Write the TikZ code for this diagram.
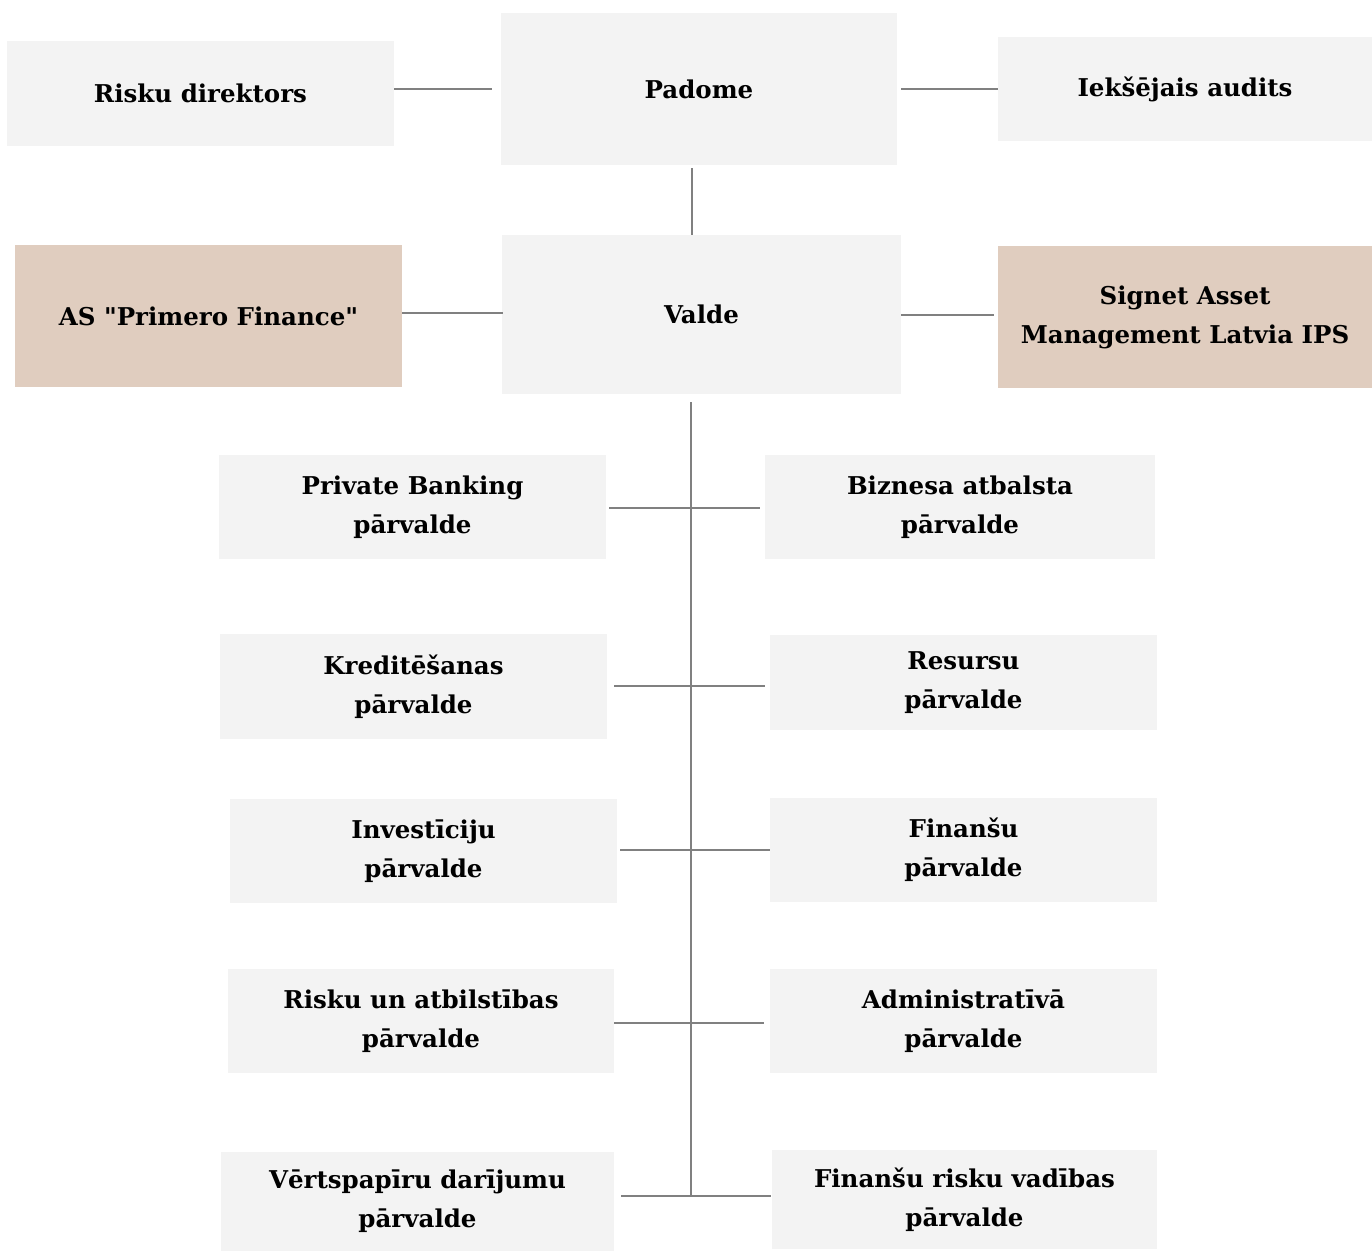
\documentclass[tikz,border=0pt]{standalone}
\usepackage{fontspec}
\setmainfont{DejaVu Serif}
\usetikzlibrary{positioning}

\definecolor{boxgray}{HTML}{F3F3F3}
\definecolor{boxtan}{HTML}{E0CDBF}
\definecolor{linegray}{HTML}{808080}

\tikzset{
  unit/.style={fill=boxgray, draw=none, font=\bfseries\fontsize{24.5}{39}\selectfont,
    align=center, inner sep=0pt, minimum width=387pt, minimum height=104pt},
  subunit/.style={unit, fill=boxtan, minimum height=142pt},
  link/.style={draw=linegray, line width=2pt}
}

\begin{document}
\begin{tikzpicture}[x=1pt, y=-1pt]
\useasboundingbox (0,0) rectangle (1372,1251);
% Top: supervisory level
\node [unit, minimum width=396pt, minimum height=152pt] (padome) at (699,89) {Padome};
\node [unit, minimum height=105pt] (risks) at (200.5,93.5) {Risku direktors};
\node [unit, minimum width=374pt] (audit) at (1185,89) {Iekšējais audits};
% Management board and subsidiaries
\node [unit, minimum width=399pt, minimum height=159pt] (valde) at (701.5,314.5) {Valde};
\node [subunit] (primero) at (208.5,316) {AS \textquotedbl Primero Finance\textquotedbl};
\node [subunit, minimum width=374pt] (signet) at (1185,317) {Signet Asset\\Management Latvia IPS};
% Departments, left column
\node [unit] (privbank) at (412.5,507) {Private Banking\\pārvalde};
\node [unit, minimum height=105pt] (kredit) at (413.5,686.5) {Kreditēšanas\\pārvalde};
\node [unit] (invest) at (423.5,851) {Investīciju\\pārvalde};
\node [unit, minimum width=386pt] (riskcomp) at (421,1021) {Risku un atbilstības\\pārvalde};
\node [unit, minimum width=393pt, minimum height=99pt] (securities) at (417.5,1201.5) {Vērtspapīru darījumu\\pārvalde};
% Departments, right column
\node [unit, minimum width=390pt] (bizsup) at (960,507) {Biznesa atbalsta\\pārvalde};
\node [unit, minimum height=95pt] (resources) at (963.5,682.5) {Resursu\\pārvalde};
\node [unit] (finance) at (963.5,850) {Finanšu\\pārvalde};
\node [unit] (admin) at (963.5,1021) {Administratīvā\\pārvalde};
\node [unit, minimum width=385pt, minimum height=99pt] (finrisk) at (964.5,1199.5) {Finanšu risku vadības\\pārvalde};
% Connectors
\draw [link, shorten >=9pt] (risks.east |- padome.west) -- (padome.west);
\draw [link, shorten <=4pt] (padome.east) -- (audit.west |- padome.east);
\draw [link, shorten <=3pt] (padome.south -| 692,0) -- (valde.north -| 692,0);
\draw [link, shorten >=-1pt] (primero.east |- 0,313) -- (valde.west |- 0,313);
\draw [link, shorten >=4pt] (valde.east |- 0,315) -- (signet.west |- 0,315);
\coordinate (trunkend) at (691,1196);
\draw [link, shorten <=8pt] (valde.south -| trunkend) -- (trunkend);
\draw [link, shorten <=3pt, shorten >=5pt] (privbank.east |- 0,508) -- (bizsup.west |- 0,508);
\draw [link, shorten <=7pt, shorten >=5pt] (kredit.east |- 0,686) -- (resources.west |- 0,686);
\draw [link, shorten <=3pt] (invest.east |- 0,850) -- (finance.west |- 0,850);
\draw [link, shorten <=0pt, shorten >=6pt] (riskcomp.east |- 0,1023) -- (admin.west |- 0,1023);
\draw [link, shorten <=7pt, shorten >=1pt] (securities.east |- trunkend) -- (finrisk.west |- trunkend);
\end{tikzpicture}
\end{document}
